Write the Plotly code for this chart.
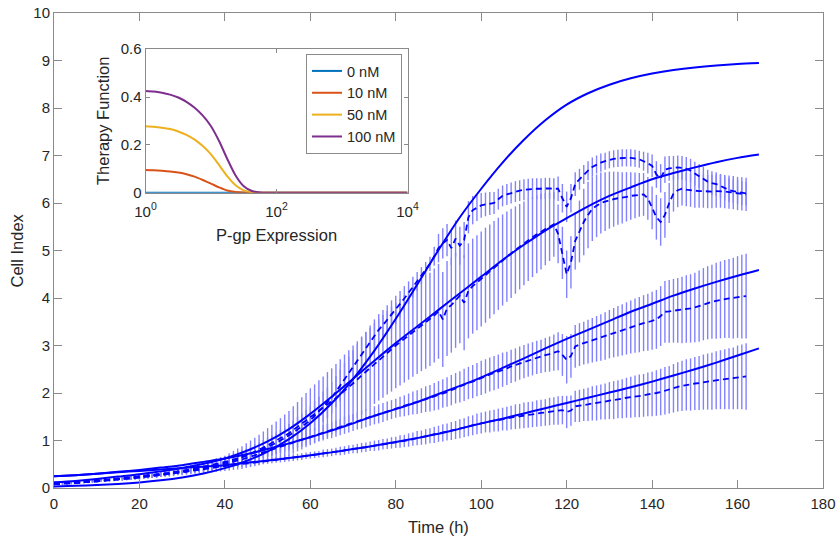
import plotly.graph_objects as go

# ---------------- data: experiments (hourly, t = 0..162 h) ----------------
hours = list(range(163))

# dataset 1 (highest, steep rise)
d1_mean = [0.09,0.10,0.10,0.11,0.12,0.12,0.13,0.14,0.14,0.15,
           0.16,0.17,0.17,0.18,0.19,0.20,0.21,0.21,0.22,0.23,
           0.24,0.25,0.26,0.27,0.28,0.30,0.31,0.32,0.34,0.35,
           0.36,0.38,0.39,0.41,0.43,0.44,0.46,0.48,0.51,0.53,
           0.55,0.57,0.60,0.62,0.65,0.68,0.71,0.75,0.78,0.82,
           0.86,0.90,0.95,1.00,1.05,1.10,1.16,1.23,1.29,1.36,
           1.42,1.52,1.61,1.71,1.80,1.90,2.03,2.16,2.29,2.42,
           2.55,2.68,2.82,2.95,3.08,3.22,3.33,3.43,3.54,3.65,
           3.75,3.87,3.99,4.11,4.23,4.35,4.47,4.60,4.72,4.88,
           5.05,5.15,5.22,5.05,5.25,5.10,5.22,5.70,5.85,5.90,
           5.95,5.97,5.99,6.00,6.08,6.15,6.18,6.21,6.24,6.26,
           6.28,6.29,6.30,6.30,6.30,6.31,6.31,6.30,6.30,6.10,
           5.92,6.10,6.40,6.50,6.60,6.68,6.76,6.81,6.85,6.88,
           6.91,6.93,6.94,6.95,6.95,6.95,6.94,6.92,6.88,6.84,
           6.78,6.60,6.52,6.70,6.73,6.74,6.75,6.74,6.72,6.68,
           6.62,6.57,6.51,6.45,6.42,6.40,6.36,6.31,6.27,6.25,
           6.23,6.21,6.20]
d1_sd = [0.03,0.03,0.03,0.03,0.03,0.03,0.03,0.03,0.03,0.03,
         0.03,0.03,0.03,0.03,0.03,0.04,0.04,0.04,0.04,0.04,
         0.05,0.05,0.05,0.05,0.06,0.06,0.06,0.07,0.07,0.07,
         0.08,0.08,0.09,0.09,0.10,0.10,0.10,0.11,0.11,0.12,
         0.12,0.13,0.13,0.14,0.15,0.15,0.16,0.17,0.18,0.19,
         0.20,0.21,0.22,0.23,0.24,0.25,0.26,0.27,0.28,0.29,
         0.30,0.31,0.31,0.32,0.32,0.33,0.33,0.34,0.34,0.35,
         0.35,0.35,0.35,0.34,0.34,0.33,0.33,0.32,0.31,0.30,
         0.30,0.28,0.26,0.24,0.22,0.20,0.18,0.16,0.15,0.20,
         0.30,0.32,0.34,0.36,0.38,0.40,0.38,0.34,0.30,0.28,
         0.26,0.25,0.24,0.23,0.22,0.22,0.22,0.22,0.22,0.22,
         0.22,0.22,0.22,0.22,0.22,0.22,0.22,0.22,0.26,0.30,
         0.32,0.30,0.25,0.22,0.20,0.20,0.20,0.19,0.19,0.18,
         0.18,0.18,0.18,0.18,0.18,0.18,0.18,0.18,0.20,0.22,
         0.24,0.28,0.30,0.28,0.26,0.25,0.25,0.25,0.25,0.25,
         0.25,0.25,0.25,0.25,0.25,0.25,0.25,0.25,0.25,0.25,
         0.25,0.25,0.25]

# dataset 2 (second, big dips at 120 h and 142 h)
d2_mean = [0.08,0.09,0.09,0.10,0.11,0.11,0.12,0.13,0.13,0.14,
           0.15,0.16,0.16,0.17,0.18,0.19,0.19,0.20,0.21,0.22,
           0.23,0.24,0.25,0.26,0.27,0.29,0.30,0.31,0.32,0.34,
           0.35,0.36,0.38,0.39,0.41,0.42,0.44,0.46,0.48,0.50,
           0.52,0.55,0.58,0.61,0.64,0.68,0.72,0.76,0.80,0.85,
           0.90,0.95,1.00,1.05,1.10,1.15,1.22,1.29,1.36,1.43,
           1.50,1.56,1.63,1.69,1.76,1.82,1.89,1.97,2.05,2.12,
           2.20,2.28,2.37,2.45,2.53,2.62,2.70,2.77,2.85,2.92,
           3.00,3.07,3.14,3.21,3.28,3.35,3.42,3.48,3.55,3.63,
           3.72,3.55,3.78,3.85,3.95,4.05,3.90,4.15,4.25,4.32,
           4.40,4.48,4.56,4.64,4.72,4.80,4.87,4.94,5.01,5.08,
           5.15,5.22,5.28,5.34,5.40,5.45,5.50,5.55,5.35,4.95,
           4.50,4.75,5.20,5.40,5.60,5.75,5.88,5.94,6.00,6.03,
           6.06,6.08,6.10,6.11,6.13,6.15,6.16,6.17,6.18,6.10,
           5.90,5.70,5.60,5.75,6.00,6.20,6.27,6.30,6.28,6.27,
           6.25,6.25,6.25,6.24,6.24,6.25,6.25,6.24,6.23,6.22,
           6.20,6.19,6.18]
d2_sd = [0.03,0.03,0.03,0.03,0.03,0.03,0.03,0.03,0.03,0.03,
         0.03,0.03,0.03,0.03,0.03,0.04,0.04,0.04,0.04,0.04,
         0.05,0.05,0.05,0.05,0.06,0.06,0.06,0.07,0.07,0.07,
         0.08,0.08,0.09,0.09,0.10,0.11,0.12,0.13,0.14,0.15,
         0.16,0.18,0.20,0.22,0.24,0.26,0.28,0.30,0.32,0.34,
         0.36,0.38,0.40,0.42,0.45,0.47,0.50,0.52,0.55,0.57,
         0.60,0.62,0.64,0.66,0.68,0.70,0.72,0.74,0.76,0.78,
         0.80,0.81,0.82,0.83,0.84,0.85,0.86,0.87,0.88,0.89,
         0.90,0.91,0.92,0.93,0.94,0.95,0.96,0.97,0.98,0.99,
         1.00,1.00,1.00,1.00,1.00,1.00,1.00,1.00,1.00,1.00,
         1.00,1.00,0.99,0.98,0.97,0.96,0.95,0.94,0.92,0.90,
         0.88,0.86,0.84,0.82,0.80,0.76,0.72,0.68,0.62,0.55,
         0.50,0.55,0.60,0.65,0.70,0.70,0.68,0.66,0.64,0.62,
         0.60,0.58,0.56,0.54,0.52,0.50,0.48,0.46,0.45,0.45,
         0.45,0.47,0.50,0.48,0.42,0.38,0.36,0.35,0.35,0.35,
         0.35,0.35,0.35,0.35,0.35,0.35,0.35,0.35,0.35,0.35,
         0.35,0.35,0.35]

# dataset 3 (middle)
d3_mean = [0.08,0.09,0.09,0.10,0.10,0.11,0.12,0.12,0.13,0.13,
           0.14,0.15,0.16,0.16,0.17,0.18,0.19,0.20,0.20,0.21,
           0.22,0.23,0.24,0.25,0.26,0.28,0.29,0.30,0.31,0.33,
           0.34,0.35,0.37,0.38,0.40,0.41,0.43,0.45,0.46,0.48,
           0.50,0.53,0.55,0.58,0.60,0.63,0.66,0.69,0.72,0.75,
           0.78,0.81,0.84,0.87,0.90,0.93,0.96,0.99,1.02,1.05,
           1.08,1.11,1.14,1.16,1.19,1.22,1.25,1.28,1.32,1.35,
           1.38,1.41,1.44,1.47,1.50,1.53,1.56,1.59,1.62,1.65,
           1.68,1.71,1.73,1.76,1.79,1.81,1.84,1.87,1.89,1.92,
           1.95,1.99,2.02,2.06,2.10,2.13,2.17,2.21,2.24,2.28,
           2.32,2.35,2.39,2.42,2.45,2.49,2.52,2.56,2.59,2.63,
           2.66,2.69,2.72,2.75,2.77,2.80,2.82,2.85,2.88,2.80,
           2.70,2.78,2.98,3.02,3.05,3.08,3.11,3.14,3.17,3.20,
           3.24,3.27,3.30,3.33,3.36,3.39,3.42,3.44,3.47,3.49,
           3.52,3.55,3.62,3.71,3.72,3.73,3.74,3.75,3.77,3.78,
           3.80,3.83,3.87,3.90,3.92,3.94,3.96,3.98,3.99,4.00,
           4.02,4.03,4.04]
d3_sd = [0.02,0.02,0.02,0.02,0.02,0.02,0.02,0.02,0.02,0.02,
         0.02,0.02,0.02,0.03,0.03,0.03,0.03,0.03,0.03,0.03,
         0.04,0.04,0.04,0.04,0.04,0.04,0.04,0.04,0.04,0.04,
         0.04,0.05,0.05,0.05,0.06,0.06,0.06,0.07,0.07,0.07,
         0.08,0.08,0.09,0.09,0.10,0.10,0.11,0.11,0.12,0.12,
         0.12,0.13,0.13,0.13,0.14,0.14,0.14,0.14,0.15,0.15,
         0.15,0.15,0.16,0.16,0.16,0.17,0.17,0.17,0.18,0.18,
         0.18,0.18,0.19,0.19,0.19,0.19,0.20,0.20,0.20,0.20,
         0.20,0.21,0.22,0.23,0.24,0.25,0.26,0.27,0.28,0.29,
         0.30,0.30,0.31,0.32,0.32,0.33,0.34,0.34,0.35,0.35,
         0.36,0.36,0.36,0.36,0.36,0.36,0.35,0.35,0.35,0.35,
         0.35,0.35,0.35,0.35,0.35,0.36,0.37,0.38,0.40,0.44,
         0.50,0.46,0.45,0.45,0.45,0.46,0.47,0.48,0.49,0.50,
         0.51,0.52,0.53,0.54,0.55,0.56,0.57,0.58,0.59,0.60,
         0.61,0.62,0.63,0.65,0.66,0.67,0.68,0.70,0.71,0.72,
         0.73,0.75,0.76,0.77,0.78,0.80,0.81,0.82,0.83,0.85,
         0.86,0.88,0.89]

# dataset 4 (lowest)
d4_mean = [0.08,0.09,0.09,0.10,0.10,0.11,0.12,0.12,0.13,0.13,
           0.14,0.15,0.16,0.16,0.17,0.18,0.19,0.20,0.20,0.21,
           0.22,0.23,0.24,0.25,0.26,0.27,0.28,0.29,0.31,0.32,
           0.33,0.34,0.36,0.37,0.38,0.40,0.41,0.42,0.44,0.45,
           0.46,0.47,0.48,0.49,0.50,0.51,0.52,0.54,0.55,0.56,
           0.57,0.58,0.59,0.60,0.62,0.63,0.64,0.65,0.66,0.68,
           0.69,0.70,0.71,0.73,0.74,0.75,0.77,0.78,0.79,0.81,
           0.82,0.83,0.85,0.86,0.88,0.89,0.90,0.92,0.93,0.95,
           0.96,0.98,0.99,1.01,1.03,1.05,1.06,1.08,1.10,1.12,
           1.14,1.16,1.18,1.20,1.22,1.25,1.27,1.30,1.32,1.35,
           1.37,1.39,1.40,1.42,1.43,1.45,1.46,1.48,1.50,1.51,
           1.53,1.54,1.55,1.57,1.58,1.59,1.61,1.62,1.63,1.64,
           1.60,1.63,1.72,1.73,1.75,1.76,1.78,1.79,1.81,1.82,
           1.84,1.85,1.87,1.88,1.90,1.91,1.93,1.94,1.95,1.97,
           1.98,2.00,2.02,2.05,2.07,2.10,2.13,2.15,2.17,2.18,
           2.20,2.21,2.23,2.24,2.25,2.27,2.28,2.29,2.30,2.31,
           2.33,2.34,2.35]
d4_sd = [0.02,0.02,0.02,0.02,0.02,0.02,0.02,0.02,0.02,0.02,
         0.02,0.02,0.02,0.02,0.02,0.03,0.03,0.03,0.03,0.03,
         0.03,0.03,0.03,0.03,0.03,0.03,0.03,0.03,0.03,0.03,
         0.03,0.03,0.04,0.04,0.04,0.04,0.04,0.04,0.05,0.05,
         0.05,0.05,0.05,0.05,0.05,0.06,0.06,0.06,0.06,0.06,
         0.06,0.06,0.06,0.06,0.07,0.07,0.07,0.07,0.07,0.07,
         0.07,0.07,0.07,0.08,0.08,0.08,0.08,0.09,0.09,0.09,
         0.09,0.10,0.10,0.10,0.10,0.11,0.11,0.11,0.11,0.12,
         0.12,0.13,0.13,0.14,0.14,0.15,0.15,0.16,0.16,0.17,
         0.17,0.18,0.18,0.19,0.19,0.20,0.20,0.21,0.21,0.22,
         0.22,0.22,0.23,0.23,0.24,0.24,0.25,0.25,0.26,0.26,
         0.27,0.27,0.27,0.28,0.28,0.28,0.29,0.29,0.30,0.30,
         0.34,0.32,0.33,0.34,0.34,0.35,0.36,0.37,0.37,0.38,
         0.39,0.40,0.40,0.41,0.42,0.43,0.44,0.45,0.45,0.46,
         0.47,0.48,0.49,0.50,0.50,0.51,0.52,0.53,0.54,0.55,
         0.56,0.57,0.58,0.59,0.60,0.61,0.62,0.63,0.64,0.65,
         0.67,0.68,0.70]

# ---------------- data: model curves (every 5 h, 0..165 h) ----------------
model_t = [0,5,10,15,20,25,30,35,40,45,50,55,60,65,70,75,80,85,90,95,
           100,105,110,115,120,125,130,135,140,145,150,155,160,165]
model_1 = [0.032,0.045,0.062,0.086,0.118,0.162,0.223,0.306,0.418,0.568,0.768,1.029,1.364,1.784,
           2.294,2.892,3.563,4.281,5.010,5.700,6.300,6.850,7.330,7.740,8.070,8.310,8.490,8.625,
           8.725,8.800,8.855,8.895,8.925,8.946]
model_2 = [0.12,0.15,0.19,0.24,0.29,0.35,0.42,0.51,0.62,0.78,0.98,1.24,1.56,1.92,2.30,2.68,
           3.05,3.40,3.75,4.10,4.45,4.80,5.12,5.42,5.68,5.93,6.15,6.33,6.50,6.63,6.75,
           6.86,6.95,7.02]
model_3 = [0.245,0.27,0.30,0.34,0.38,0.43,0.48,0.55,0.62,0.71,0.82,0.94,1.07,1.21,1.36,1.52,
           1.66,1.81,1.98,2.15,2.33,2.53,2.73,2.94,3.14,3.33,3.52,3.71,3.88,4.05,4.20,
           4.34,4.47,4.59]
model_4 = [0.245,0.27,0.30,0.33,0.36,0.39,0.42,0.45,0.48,0.53,0.58,0.63,0.69,0.75,0.82,0.89,
           0.97,1.05,1.14,1.25,1.36,1.46,1.57,1.68,1.79,1.90,2.01,2.12,2.24,2.37,2.50,
           2.64,2.79,2.94]

# ---------------- data: inset (therapy function vs P-gp expression) ----------------
pgp = [1, 1.334, 1.778, 2.371, 3.162, 4.217, 5.623, 7.499, 10, 13.34, 17.78, 23.71,
       31.62, 42.17, 56.23, 74.99, 100, 1000, 10000]
therapy_labels = ["0 nM", "10 nM", "50 nM", "100 nM"]
therapy_0 = [0]*19
therapy_10 = [0.095, 0.094, 0.092, 0.089, 0.084, 0.077, 0.067, 0.053, 0.038, 0.022, 0.009,
              0.003, 0.0005, 0, 0, 0, 0, 0, 0]
therapy_50 = [0.278, 0.276, 0.272, 0.266, 0.256, 0.242, 0.222, 0.195, 0.160, 0.115, 0.068,
              0.031, 0.010, 0.002, 0, 0, 0, 0, 0]
therapy_100 = [0.425, 0.423, 0.418, 0.410, 0.398, 0.380, 0.355, 0.322, 0.278, 0.215, 0.140,
               0.072, 0.027, 0.007, 0.001, 0, 0, 0, 0]
therapy_colors = ["#0072BD", "#D95319", "#EDB120", "#7E2F8E"]

FONT = "Liberation Sans, Arial, Helvetica, sans-serif"
TXT = "#262626"
AX = "#8a8a8a"
BAND = "rgb(130,130,255)"
BLUE = "#0000ff"

fig = go.Figure()

datasets = [(d1_mean, d1_sd), (d2_mean, d2_sd), (d3_mean, d3_sd), (d4_mean, d4_sd)]
for m, s in datasets:
    fig.add_trace(go.Scatter(
        x=hours, y=m, mode="markers",
        marker=dict(size=1, color="rgba(0,0,0,0)"),
        error_y=dict(type="data", array=s, symmetric=True, color=BAND,
                     thickness=1.4, width=0),
        showlegend=False, hoverinfo="skip", xaxis="x", yaxis="y"))
for m, s in datasets:
    fig.add_trace(go.Scatter(
        x=hours, y=m, mode="lines",
        line=dict(color=BLUE, width=1.8, dash="6px,4px"),
        showlegend=False, xaxis="x", yaxis="y"))
for mc in [model_1, model_2, model_3, model_4]:
    fig.add_trace(go.Scatter(
        x=model_t, y=mc, mode="lines",
        line=dict(color=BLUE, width=2, shape="spline", smoothing=0.8),
        showlegend=False, xaxis="x", yaxis="y"))

for lab, vals, col in zip(therapy_labels, [therapy_0, therapy_10, therapy_50, therapy_100],
                          therapy_colors):
    fig.add_trace(go.Scatter(
        x=pgp, y=vals, mode="lines", name=lab,
        line=dict(color=col, width=2, shape="spline", smoothing=0.5),
        xaxis="x2", yaxis="y2"))

axis_common = dict(showline=True, linecolor=AX, linewidth=1, mirror="ticks",
                   ticks="inside", tickcolor=AX, showgrid=False, zeroline=False,
                   tickfont=dict(family=FONT, size=15, color=TXT))

title_font = dict(family=FONT, size=16.5, color=TXT)
annotations = [
    dict(text="Time (h)", x=0.5, y=-0.0821, xref="paper", yref="paper",
         xanchor="center", yanchor="middle", showarrow=False, font=title_font),
    dict(text="Cell Index", x=-0.0475, y=0.501, xref="paper", yref="paper",
         xanchor="center", yanchor="middle", showarrow=False, textangle=-90, font=title_font),
    dict(text="Therapy Function", x=0.0637, y=0.7726, xref="paper", yref="paper",
         xanchor="center", yanchor="middle", showarrow=False, textangle=-90, font=title_font),
    dict(text="P-gp Expression", x=0.2895, y=0.5326, xref="paper", yref="paper",
         xanchor="center", yanchor="middle", showarrow=False, font=title_font),
]

fig.update_layout(
    width=838, height=541,
    margin=dict(l=54, r=15, t=13, b=53, autoexpand=False),
    paper_bgcolor="white", plot_bgcolor="white",
    font=dict(family=FONT, size=15, color=TXT),
    xaxis=dict(domain=[0, 1], range=[0, 180], tickvals=[0,20,40,60,80,100,120,140,160,180],
               ticklen=8, anchor="y", ticklabelstandoff=2, **axis_common),
    yaxis=dict(domain=[0, 1], range=[0, 10], tickvals=list(range(11)), ticklen=8, anchor="x",
               **axis_common),
    xaxis2=dict(domain=[0.119, 0.4597], type="log", range=[0, 4], anchor="y2",
                tickvals=[1, 100, 10000],
                ticktext=["10<sup>0</sup>", "10<sup>2</sup>", "10<sup>4</sup>"],
                ticklen=4, ticklabelstandoff=5, **axis_common),
    yaxis2=dict(domain=[0.6217, 0.9238], range=[0, 0.6], anchor="x2",
                tickvals=[0, 0.2, 0.4, 0.6], ticktext=["0", "0.2", "0.4", "0.6"],
                ticklen=4, **axis_common),
    legend=dict(xref="container", yref="container", x=306/838, y=1-54/541,
                xanchor="left", yanchor="top", bgcolor="white",
                bordercolor=AX, borderwidth=1,
                font=dict(family=FONT, size=14.5, color=TXT),
                tracegroupgap=0, itemwidth=30),
    showlegend=True,
    annotations=annotations,
)

fig.write_html("out.html")
